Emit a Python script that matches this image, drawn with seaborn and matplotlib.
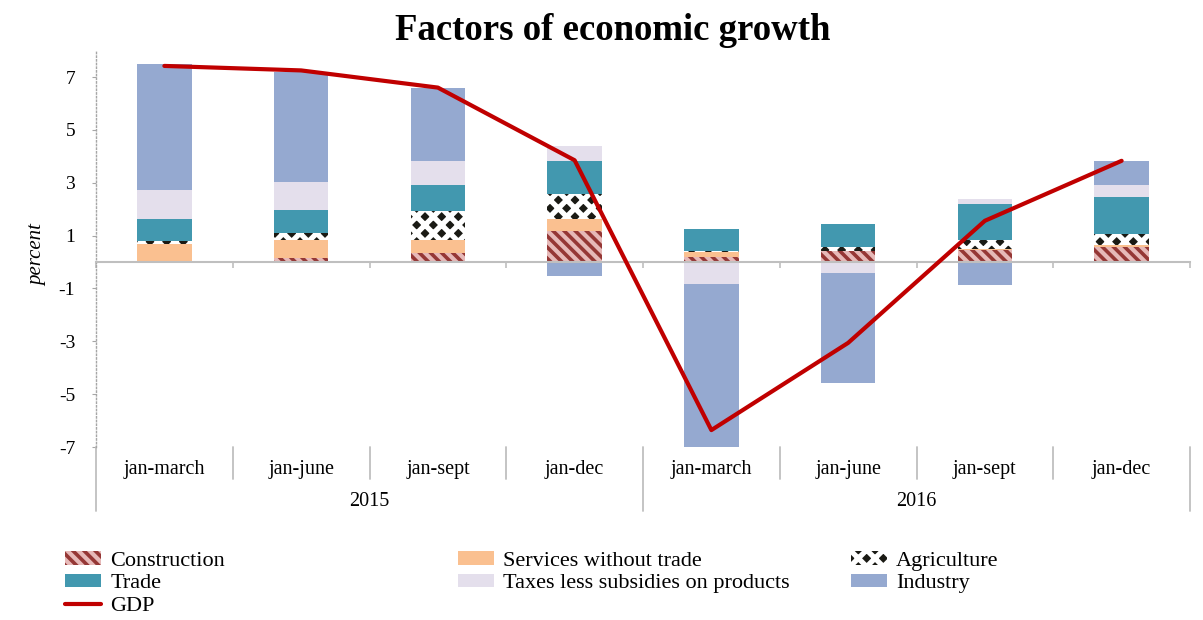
import numpy as np
import matplotlib
matplotlib.use("Agg")
import matplotlib.pyplot as plt
import matplotlib.transforms as mtransforms
from matplotlib.patches import Patch
from matplotlib.lines import Line2D
import seaborn as sns

# ---------------- data ----------------
categories = ["jan-march", "jan-june", "jan-sept", "jan-dec",
              "jan-march", "jan-june", "jan-sept", "jan-dec"]
years = ["2015", "2016"]
construction = [0.05, 0.17, 0.34, 1.17, 0.20, 0.40, 0.47, 0.57]
services = [0.65, 0.68, 0.50, 0.47, 0.19, 0.00, 0.02, 0.06]
agriculture = [0.09, 0.23, 1.09, 0.92, 0.03, 0.16, 0.34, 0.42]
trade = [0.85, 0.89, 0.98, 1.26, 0.82, 0.88, 1.35, 1.42]
taxes = [1.08, 1.06, 0.93, 0.56, -0.84, -0.42, 0.19, 0.45]
industry = [4.78, 4.17, 2.75, -0.54, -6.20, -4.15, -0.87, 0.90]
gdp = [7.42, 7.25, 6.60, 3.85, -6.36, -3.06, 1.56, 3.83]
yticks = [-7, -5, -3, -1, 1, 3, 5, 7]

# ---------------- style ----------------
sns.set_theme(style="white")
plt.rcParams['font.family'] = ['Liberation Serif', 'DejaVu Serif']
plt.rcParams['text.color'] = 'black'
plt.rcParams['ytick.color'] = 'black'
plt.rcParams['hatch.linewidth'] = 2.5


def with_hatch_lw(artist, lw):
    """Make an artist draw its hatch with a specific line width."""
    if hasattr(artist, "set_hatch_linewidth"):
        artist.set_hatch_linewidth(lw)
    orig = artist.draw

    def draw(renderer, _orig=orig):
        with plt.rc_context({'hatch.linewidth': lw}):
            _orig(renderer)
    artist.draw = draw


fig = plt.figure(figsize=(12.03, 6.2), dpi=100)
ax = fig.add_axes([96 / 1203, 1 - 447 / 620, (1190 - 96) / 1203, (447 - 50.6) / 620])

x = np.arange(len(categories))
series = [
    ("Construction", construction, "#E6B9B8", "\\\\\\", "#953735", 2.6),
    ("Services without trade", services, "#FAC090", None, "#FAC090", 2.5),
    ("Agriculture", agriculture, "#1A1A14", "xx", "white", 3.8),
    ("Trade", trade, "#4298AF", None, "#4298AF", 2.5),
    ("Taxes less subsidies on products", taxes, "#E4DFEC", None, "#E4DFEC", 2.5),
    ("Industry", industry, "#95A9D0", None, "#95A9D0", 2.5),
]
hatch_lw = {name: hlw for name, _, _, _, _, hlw in series}

pos = np.zeros(len(x))
neg = np.zeros(len(x))
handles = {}
for name, vals, face, hatch, hcol, hlw in series:
    v = np.array(vals, dtype=float)
    bottom = np.where(v >= 0, pos, neg)
    with plt.rc_context({'hatch.linewidth': hlw}):
        bars = ax.bar(x, v, width=0.4, bottom=bottom, color=face, hatch=hatch,
                      edgecolor=hcol, linewidth=0, zorder=2)
        h = Patch(facecolor=face, hatch=hatch, edgecolor=hcol, linewidth=0)
    for b in bars:
        with_hatch_lw(b, hlw)
    pos += np.clip(v, 0, None)
    neg += np.clip(v, None, 0)
    handles[name] = h

sns.lineplot(x=x, y=gdp, ax=ax, color="#C00000", linewidth=3, zorder=5,
             legend=False)
handles["GDP"] = Line2D([0], [0], color="#C00000", linewidth=3)

# ---------------- axes ----------------
ax.set_xlim(-0.5, 7.5)
ax.set_ylim(-7, 8)
ax.set_yticks(yticks)
ax.set_yticklabels([str(t) for t in yticks], fontsize=14)
ax.set_xticks(np.arange(-0.5, 8, 1.0))
ax.set_xticklabels([])
ax.tick_params(axis='y', left=True, length=3, width=0.8, color="#A6A6A6",
               labelcolor="black", pad=12)
ax.tick_params(axis='x', bottom=True, length=4, width=1.2, color="#BFBFBF", direction='out')
for s in ["top", "right"]:
    ax.spines[s].set_visible(False)
ax.spines["left"].set_linestyle(":")
ax.spines["left"].set_color("#A6A6A6")
ax.spines["left"].set_linewidth(1.0)
ax.spines["bottom"].set_position(("data", 0))
ax.spines["bottom"].set_color("#BFBFBF")
ax.spines["bottom"].set_linewidth(1.5)
ax.set_xlabel("")
ax.set_ylabel("")

blend = mtransforms.blended_transform_factory(ax.transData, ax.transAxes)
for i, cat in enumerate(categories):
    ax.text(i, -0.056, cat, transform=blend, ha="center", va="center",
            fontsize=14.5, color="black")
for j, yr in enumerate(years):
    ax.text(1.5 + 4 * j, -0.138, yr, transform=blend, ha="center", va="center",
            fontsize=14.5, color="black")
for b in [0.5, 1.5, 2.5, 4.5, 5.5, 6.5]:
    ax.plot([b, b], [0, -0.081], transform=blend, clip_on=False,
            color="#BFBFBF", lw=1.3)
for b in [-0.5, 3.5, 7.5]:
    ax.plot([b, b], [0, -0.161], transform=blend, clip_on=False,
            color="#BFBFBF", lw=1.3)

# ---------------- texts ----------------
fig.text(0.509, 0.951, "Factors of economic growth", ha="center", va="center",
         fontsize=26.5, fontweight="bold", color="black")
fig.text(0.031, 0.589, "percent", rotation=90, style="italic", fontsize=15,
         ha="center", va="center", color="black")

# ---------------- legend ----------------
cols = [
    (65, ["Construction", "Trade", "GDP"]),
    (458, ["Services without trade", "Taxes less subsidies on products"]),
    (851, ["Agriculture", "Industry"]),
]
for xpx, names in cols:
    leg = fig.legend([handles[n] for n in names], names, loc="upper left",
                     bbox_to_anchor=(xpx / 1203, 1 - 551 / 620), frameon=False,
                     borderpad=0, borderaxespad=0, fontsize=16,
                     handlelength=1.63, handleheight=0.57, handletextpad=0.4,
                     labelspacing=0.14)
    for n, lh in zip(names, leg.legend_handles):
        if isinstance(lh, Patch):
            with_hatch_lw(lh, hatch_lw[n])

fig.savefig("out.png", dpi=100)
